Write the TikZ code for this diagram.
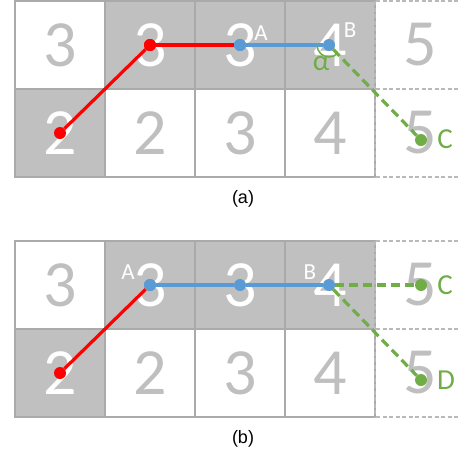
\documentclass[tikz,border=0pt]{standalone}
\usepackage{fontspec}
\setmainfont{Carlito}
\newfontfamily\capfont{Liberation Sans}
\usetikzlibrary{arrows.meta,calc,positioning}
\definecolor{cellgray}{RGB}{192,192,192}
\definecolor{gridgray}{RGB}{170,170,170}
\definecolor{dashgray}{RGB}{185,185,185}
\definecolor{digitgray}{RGB}{191,191,191}
\definecolor{pathred}{RGB}{255,0,0}
\definecolor{pathblue}{RGB}{91,155,213}
\definecolor{pathgreen}{RGB}{112,173,71}
\tikzset{
 cellbox/.style={minimum width=90pt,minimum height=88pt,inner sep=0pt,
  font=\fontsize{66}{66}\selectfont},
 darkcell/.style={cellbox,fill=cellgray,text=white},
 lightcell/.style={cellbox,text=digitgray},
 gridline/.style={gridgray,line width=1.5pt},
 dashline/.style={dashgray,line width=1.3pt,dash pattern=on 4pt off 2.5pt},
 dot/.style={circle,inner sep=0pt,minimum size=12pt},
 redpath/.style={pathred,line width=3.2pt},
 bluepath/.style={pathblue,line width=3.2pt},
 greenpath/.style={pathgreen,line width=3.2pt,dash pattern=on 9pt off 5pt},
 ptlabel/.style={inner sep=0pt,font=\fontsize{23}{23}\selectfont},
 sidelabel/.style={inner sep=0pt,text=pathgreen,font=\fontsize{29}{29}\selectfont},
 caption/.style={font=\capfont\fontsize{18}{18}\selectfont}
}
\begin{document}
\begin{tikzpicture}[x=1pt,y=-1pt,line cap=butt]
\useasboundingbox (0,0) rectangle (460,456);
% the two grids
\foreach \p/\dy in {a/0,b/240}{
 \begin{scope}[shift={(0,\dy)}]
 \foreach \rc/\x/\y/\v/\s in {11/60/45/3/lightcell,12/150/45/3/darkcell,
   13/240/45/3/darkcell,14/330/45/4/darkcell,15/420/45/5/lightcell,
   21/60/133/2/darkcell,22/150/133/2/lightcell,23/240/133/3/lightcell,
   24/330/133/4/lightcell,25/420/133/5/lightcell}
  \node[\s] (\p-\rc) at (\x,\y) {\v};
 \draw[gridline] (15,1) rectangle (375,177);
 \draw[gridline] (15,89) -- (375,89);
 \foreach \x in {105,195,285}
  \draw[gridline] (\x,1) -- (\x,177);
 \draw[dashline] (375,1) -- (375,177);
 \foreach \y in {1,89,177}
  \draw[dashline] (376,\y) -- (470,\y);
 \end{scope}
}
% (a)
\node[dot,fill=pathred] (a-s) at (a-21.center) {};
\node[dot,fill=pathred] (a-t) at (a-12.center) {};
\node[dot,fill=pathblue] (a-A) at (a-13.center) {};
\node[dot,fill=pathblue] (a-B) at (329,45) {};
\node[dot,fill=pathgreen] (a-C) at (421,140) {};
\draw[redpath] (a-s) -- (a-t);
\draw[redpath] (a-t) -- (a-A);
\draw[bluepath] (a-A) -- (a-B);
\draw[greenpath] (a-B) -- (a-C);
\node[dot,fill=pathred] at (a-t) {};
\node[dot,fill=pathblue] at (a-A) {};
\draw[pathgreen,line width=1.5pt] ($(a-B.center)+(-12,0)$) arc[start angle=180,end angle=44,radius=12];
\node[ptlabel,text=white] at ($(a-A)+(21,-12)$) {A};
\node[ptlabel,text=white] at ($(a-B)+(21,-15)$) {B};
\node[sidelabel] at ($(a-B)+(-8,19)$) {α};
\node[sidelabel] at ($(a-C)+(24,-1)$) {C};
\node[caption] (a-cap) at (243,199) {(a)};
% (b)
\node[dot,fill=pathred] (b-s) at (b-21.center) {};
\node[dot,fill=pathblue] (b-A) at (b-12.center) {};
\node[dot,fill=pathblue] (b-m) at (b-13.center) {};
\node[dot,fill=pathblue] (b-B) at (329,285) {};
\node[dot,fill=pathgreen] (b-C) at (421,285) {};
\node[dot,fill=pathgreen] (b-D) at (421,380) {};
\draw[redpath] (b-s) -- (b-A);
\draw[bluepath] (b-A) -- (b-m);
\draw[bluepath] (b-m) -- (b-B);
\draw[greenpath] (b-B) -- (b-C);
\draw[greenpath] (b-B) -- (b-D);
\node[dot,fill=pathblue] at (b-A) {};
\node[ptlabel,text=white] at ($(b-A)+(-22,-13)$) {A};
\node[ptlabel,text=white] at ($(b-B)+(-19,-13)$) {B};
\node[sidelabel] at ($(b-C)+(24,0)$) {C};
\node[sidelabel] at ($(b-D)+(25,0)$) {D};
\node[caption] (b-cap) at (243,439) {(b)};
\end{tikzpicture}
\end{document}
